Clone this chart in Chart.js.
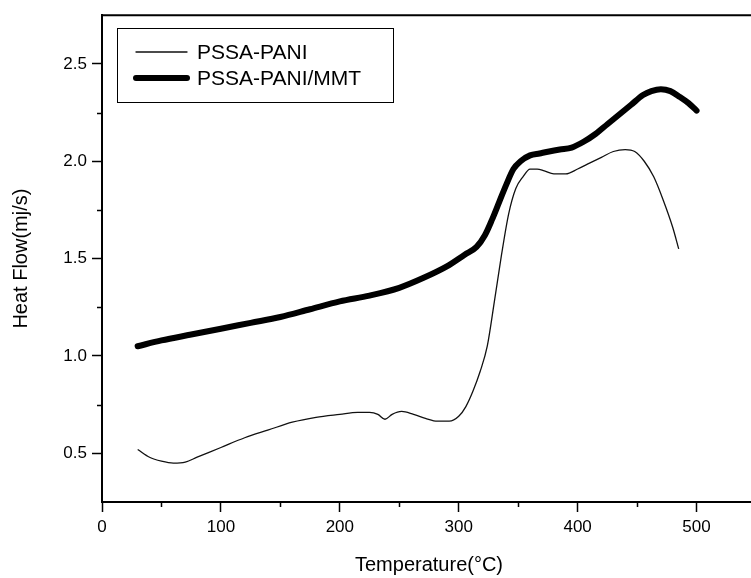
<!DOCTYPE html>
<html>
<head>
<meta charset="utf-8">
<script src="https://cdn.jsdelivr.net/npm/chart.js@4.4.0/dist/chart.umd.min.js"></script>
<style>
    html, body { margin: 0; padding: 0; background: #fff; overflow: hidden; }
    canvas { display: block; }
</style>
</head>
<body>
<canvas id="dsc" width="760" height="578"></canvas>
<script>
// PSSA-PANI (thin line)
var tempPani = [30, 40, 50, 60, 70, 80, 100, 120, 140, 160, 180, 200, 215, 225, 232, 238, 244, 252, 262, 272, 282, 292,
    300, 306, 312, 318, 324, 330, 336, 342, 348, 354, 360, 366, 372, 380, 390, 400, 410, 420, 430, 440, 448, 456, 464, 472, 480, 485];
var flowPani = [0.52, 0.48, 0.46, 0.45, 0.455, 0.48, 0.53, 0.58, 0.62, 0.66, 0.685, 0.70, 0.71, 0.71, 0.70, 0.675, 0.70, 0.715, 0.70, 0.68, 0.665, 0.665,
    0.69, 0.74, 0.82, 0.92, 1.05, 1.28, 1.52, 1.73, 1.86, 1.92, 1.96, 1.96, 1.95, 1.935, 1.935, 1.96, 1.99, 2.02, 2.05, 2.06, 2.05, 2.00, 1.92, 1.80, 1.66, 1.55];

// PSSA-PANI/MMT (thick line)
var tempMmt = [30, 50, 75, 100, 125, 150, 175, 200, 225, 250, 270, 290, 305, 315, 322, 328, 334, 340, 346, 352, 360, 368, 376,
    385, 395, 405, 415, 425, 435, 445, 455, 462, 470, 478, 486, 493, 500];
var flowMmt = [1.05, 1.08, 1.11, 1.14, 1.17, 1.20, 1.24, 1.28, 1.31, 1.35, 1.40, 1.46, 1.52, 1.56, 1.62, 1.70, 1.79, 1.88, 1.96, 2.00, 2.03, 2.04, 2.05,
    2.06, 2.07, 2.10, 2.14, 2.19, 2.24, 2.29, 2.34, 2.36, 2.37, 2.36, 2.33, 2.30, 2.26];

var seriesNames = ["PSSA-PANI", "PSSA-PANI/MMT"];
var xTicks = [0, 100, 200, 300, 400, 500];
var xMinorTicks = [50, 150, 250, 350, 450];
var yTicks = [0.5, 1.0, 1.5, 2.0, 2.5];
var yMinorTicks = [0.75, 1.25, 1.75, 2.25];

var FONT = "'Liberation Sans', Arial, sans-serif";

function toPoints(xs, ys) {
    return xs.map(function (x, i) { return { x: x, y: ys[i] }; });
}

// top frame line, minor ticks and the boxed legend
var framePlugin = {
    id: 'frame',
    afterDraw: function (chart) {
        var ctx = chart.ctx, area = chart.chartArea;
        var xs = chart.scales.x, ys = chart.scales.y;
        ctx.save();
        ctx.strokeStyle = '#000';
        ctx.lineWidth = 2;
        ctx.beginPath();
        ctx.moveTo(area.left - 1, area.top);
        ctx.lineTo(area.right + 2, area.top);
        ctx.stroke();

        ctx.lineWidth = 1.5;
        ctx.beginPath();
        xMinorTicks.forEach(function (v) {
            var px = Math.round(xs.getPixelForValue(v)) + 0.5;
            ctx.moveTo(px, area.bottom);
            ctx.lineTo(px, area.bottom + 5);
        });
        yMinorTicks.forEach(function (v) {
            var py = Math.round(ys.getPixelForValue(v)) + 0.5;
            ctx.moveTo(area.left, py);
            ctx.lineTo(area.left - 5, py);
        });
        ctx.stroke();

        // legend
        var lx = 117, ly = 28, lw = 276, lh = 74;
        ctx.fillStyle = '#fff';
        ctx.fillRect(lx, ly, lw, lh);
        ctx.lineWidth = 1;
        ctx.strokeRect(lx + 0.5, ly + 0.5, lw, lh);
        ctx.font = '21px ' + FONT;
        ctx.textBaseline = 'middle';
        ctx.textAlign = 'left';
        chart.data.datasets.forEach(function (ds, i) {
            var rowY = ly + 24 + i * 26;
            ctx.strokeStyle = ds.borderColor;
            ctx.lineWidth = ds.borderWidth;
            ctx.lineCap = 'round';
            ctx.beginPath();
            ctx.moveTo(lx + 19, rowY);
            ctx.lineTo(lx + 70, rowY);
            ctx.stroke();
            ctx.fillStyle = '#000';
            ctx.fillText(ds.label, lx + 80, rowY + 1);
        });
        ctx.restore();
    }
};

var ctx = document.getElementById('dsc').getContext('2d');
var chart = new Chart(ctx, {
    type: 'line',
    plugins: [framePlugin],
    data: {
        datasets: [{
            label: seriesNames[0],
            data: toPoints(tempPani, flowPani),
            borderColor: '#111',
            borderWidth: 1.3,
            pointRadius: 0,
            cubicInterpolationMode: 'monotone',
            fill: false
        }, {
            label: seriesNames[1],
            data: toPoints(tempMmt, flowMmt),
            borderColor: '#000',
            borderWidth: 6,
            borderCapStyle: 'round',
            pointRadius: 0,
            cubicInterpolationMode: 'monotone',
            fill: false
        }]
    },
    options: {
        responsive: false,
        animation: false,
        devicePixelRatio: 1,
        layout: { padding: { top: 12, right: 4, left: 0, bottom: 0 } },
        plugins: {
            legend: { display: false },
            title: { display: false },
            tooltip: { enabled: false }
        },
        scales: {
            x: {
                type: 'linear',
                min: 0,
                max: 550,
                afterBuildTicks: function (s) { s.ticks = xTicks.map(function (v) { return { value: v }; }); },
                afterFit: function (s) { s.height = 76; },
                ticks: {
                    color: '#000',
                    padding: 5,
                    maxRotation: 0,
                    font: { family: FONT, size: 17 }
                },
                grid: { drawOnChartArea: false, drawTicks: true, tickLength: 10, tickColor: '#000', tickWidth: 1.5 },
                border: { display: true, color: '#000', width: 2 },
                title: {
                    display: true,
                    text: 'Temperature(°C)',
                    color: '#000',
                    font: { family: FONT, size: 20 },
                    padding: { top: 0, bottom: 1 }
                }
            },
            y: {
                min: 0.25,
                max: 2.75,
                afterBuildTicks: function (s) { s.ticks = yTicks.map(function (v) { return { value: v }; }); },
                afterFit: function (s) { s.width = 102; },
                ticks: {
                    color: '#000',
                    padding: 5,
                    font: { family: FONT, size: 17 },
                    callback: function (v) { return v.toFixed(1); }
                },
                grid: { drawOnChartArea: false, drawTicks: true, tickLength: 10, tickColor: '#000', tickWidth: 1.5 },
                border: { display: true, color: '#000', width: 2 },
                title: {
                    display: true,
                    text: 'Heat Flow(mj/s)',
                    color: '#000',
                    font: { family: FONT, size: 20 },
                    padding: { top: 9, bottom: 0 }
                }
            }
        }
    }
});
</script>
</body>
</html>
